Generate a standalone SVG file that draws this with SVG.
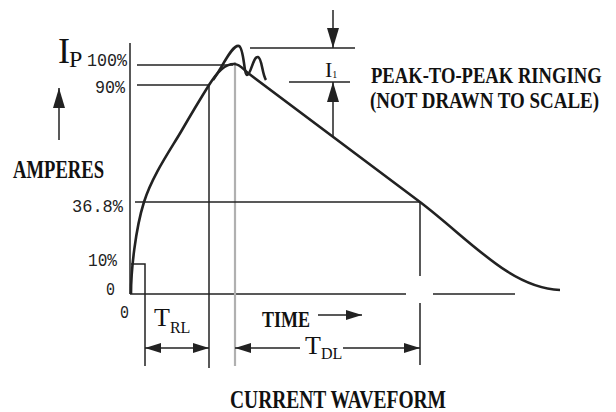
<svg xmlns="http://www.w3.org/2000/svg" width="616" height="412" viewBox="0 0 616 412">
<defs>
<style>
.ln{stroke:#222;stroke-width:1.5;fill:none}
.gr{stroke:#b0b0b0;stroke-width:2.2;fill:none}
.cv{stroke:#222;stroke-width:2.6;fill:none;stroke-linejoin:round}
.num{font-family:"Liberation Mono","DejaVu Sans Mono",monospace;font-size:18px;fill:#222}
.lab{font-family:"Liberation Serif","Times New Roman",serif;fill:#111}
.b{font-weight:bold}
</style>
<marker id="ah" viewBox="0 0 16 10" refX="16" refY="5" markerWidth="16" markerHeight="10" markerUnits="userSpaceOnUse" orient="auto">
<path d="M0,0 L16,5 L0,10 Z" fill="#222"/>
</marker>
<marker id="ahv" viewBox="0 0 20 12" refX="20" refY="6" markerWidth="20" markerHeight="12" markerUnits="userSpaceOnUse" orient="auto">
<path d="M0,0 L20,6 L0,12 Z" fill="#222"/>
</marker>
</defs>
<rect width="616" height="412" fill="#fff"/>
<g id="connectors">
<line class="ln" x1="130" y1="43" x2="130" y2="294"/>
<line class="ln" x1="130" y1="294" x2="406" y2="294"/>
<line class="ln" x1="433" y1="294" x2="515" y2="294"/>
<line class="ln" x1="137" y1="65" x2="233" y2="65"/>
<line class="ln" x1="137" y1="85" x2="209" y2="85"/>
<line class="ln" x1="209" y1="85" x2="209" y2="368"/>
<line class="gr" x1="235" y1="62" x2="235" y2="366"/>
<line class="ln" x1="135" y1="202" x2="420" y2="202"/>
<line class="ln" x1="420" y1="202" x2="420" y2="276"/>
<line class="ln" x1="420" y1="303" x2="420" y2="365"/>
<polyline class="ln" points="131,264 145,264 145,366"/>
<line class="ln" x1="250" y1="48" x2="355" y2="48"/>
<line class="ln" x1="289" y1="82" x2="350" y2="82"/>
<line class="ln" x1="333" y1="10" x2="333" y2="48" marker-end="url(#ahv)"/>
<line class="ln" x1="333" y1="137" x2="333" y2="82" marker-end="url(#ahv)"/>
<line class="ln" x1="59" y1="140" x2="59" y2="88" marker-end="url(#ahv)"/>
<line class="ln" x1="177" y1="348" x2="145" y2="348" marker-end="url(#ah)"/>
<line class="ln" x1="177" y1="348" x2="209" y2="348" marker-end="url(#ah)"/>
<line class="ln" x1="300" y1="348" x2="235" y2="348" marker-end="url(#ah)"/>
<line class="ln" x1="343" y1="348" x2="420" y2="348" marker-end="url(#ah)"/>
<line class="ln" x1="318" y1="315" x2="362" y2="315" marker-end="url(#ah)"/>
</g>
<g id="waveform">
<path class="cv" d="M131,294 C131,270 135.5,229 144,202 C152.5,175 171,149 182,130 C193,111 201.5,97 209,85 C218,71 225,64 234,64 C240,64 243,69 248,73 L420,202 C470,240 510,288 560,290"/>
<path class="cv" d="M213,80 C222,68 232,44 239,46 C244,48 244,75 247,75 C251,75 253,56 258,57 C262,58 262,74 266,80"/>
</g>
<g id="y-labels">
<text class="lab" x="58" y="63" font-size="36">I</text>
<text class="lab" x="69" y="67" font-size="24" fill="#333">P</text>
<text class="num" x="87" y="66" textLength="40" lengthAdjust="spacingAndGlyphs">100%</text>
<text class="num" x="95" y="93" textLength="30" lengthAdjust="spacingAndGlyphs">90%</text>
<text class="num" x="72" y="212" textLength="51" lengthAdjust="spacingAndGlyphs">36.8%</text>
<text class="num" x="88" y="266" textLength="29" lengthAdjust="spacingAndGlyphs">10%</text>
<text class="num" x="106" y="295" textLength="9" lengthAdjust="spacingAndGlyphs">0</text>
<text class="num" x="120" y="318" textLength="9" lengthAdjust="spacingAndGlyphs">0</text>
<text class="lab b" x="13" y="178" font-size="26" textLength="91" lengthAdjust="spacingAndGlyphs">AMPERES</text>
</g>
<g id="ringing-label">
<text class="lab" x="325" y="77" font-size="22">I<tspan font-size="10" dy="1">1</tspan></text>
<text class="lab b" transform="translate(371,83) scale(0.775,1)" font-size="24">PEAK-TO-PEAK RINGING</text>
<text class="lab b" transform="translate(370,108) scale(0.79,1)" font-size="24">(NOT DRAWN TO SCALE)</text>
</g>
<g id="time-labels">
<text class="lab" x="154" y="326" font-size="26">T<tspan font-size="16" dy="7">RL</tspan></text>
<text class="lab b" x="262" y="327" font-size="24" textLength="48" lengthAdjust="spacingAndGlyphs">TIME</text>
<text class="lab" x="305" y="354" font-size="26">T<tspan font-size="16" dy="5">DL</tspan></text>
<text class="lab b" x="230" y="408" font-size="25" textLength="216" lengthAdjust="spacingAndGlyphs">CURRENT WAVEFORM</text>
</g>
</svg>
